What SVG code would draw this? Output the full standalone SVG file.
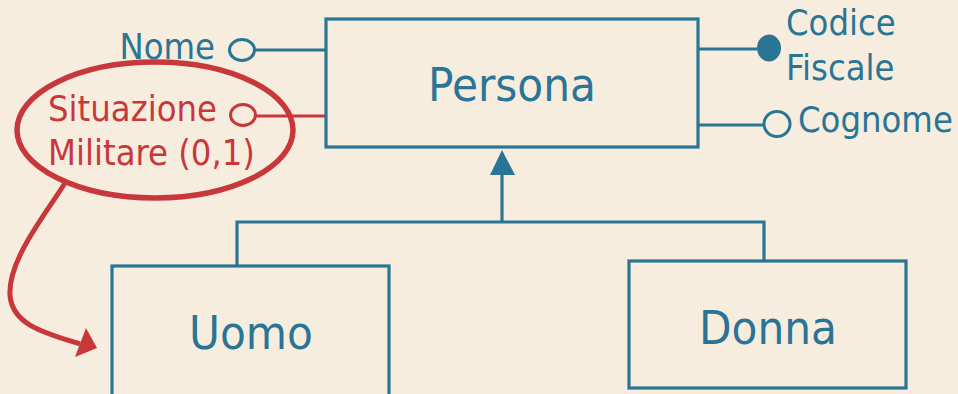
<svg xmlns="http://www.w3.org/2000/svg" width="958" height="394" viewBox="0 0 958 394">
<defs>
<style>
.bg{fill:#f7eddf}
.box{fill:none;stroke:#2a7595;stroke-width:3.2}
.ln{fill:none;stroke:#2a7595;stroke-width:3.2}
.rln{fill:none;stroke:#c8383a;stroke-width:3.2}
.oc{fill:#f7eddf;stroke:#2a7595;stroke-width:3}
.roc{fill:#f7eddf;stroke:#c8383a;stroke-width:3}
.t{font-family:"DejaVu Sans Condensed","DejaVu Sans",sans-serif;font-stretch:condensed;fill:#2a7595}
.big{font-size:47px}
.sm{font-size:36px}
.red{fill:#c8383a}
</style>
</defs>
<rect class="bg" x="0" y="0" width="958" height="394"/>
<g id="connectors">
<line class="ln" x1="255" y1="50" x2="326" y2="50"/>
<line class="rln" x1="256" y1="116" x2="326" y2="116"/>
<line class="ln" x1="698" y1="49" x2="757" y2="49"/>
<line class="ln" x1="698" y1="125" x2="764" y2="125"/>
<polyline class="ln" points="237,266 237,222 764,222 764,261"/>
<line class="ln" x1="502" y1="222" x2="502" y2="172"/>
<polygon points="502,150 490,175 515,175" fill="#2a7595"/>
<path d="M65,183 C45,215 8,260 10,295 C12,325 45,333 80,344" fill="none" stroke="#c8383a" stroke-width="5"/>
<polygon points="97,348 75,357 86,328" fill="#c8383a"/>
</g>
<g id="persona">
<rect class="box" x="326" y="19" width="372" height="128"/>
<text class="t big" x="512" y="101" text-anchor="middle">Persona</text>
</g>
<g id="uomo">
<rect class="box" x="112" y="266" width="277" height="130"/>
<text class="t big" x="251" y="349" text-anchor="middle">Uomo</text>
</g>
<g id="donna">
<rect class="box" x="629" y="261" width="277" height="127"/>
<text class="t big" x="768" y="344" text-anchor="middle">Donna</text>
</g>
<g id="attr-nome">
<ellipse class="oc" cx="242" cy="50" rx="12.5" ry="10.5"/>
<text class="t sm" x="215" y="59" text-anchor="end">Nome</text>
</g>
<g id="attr-situazione">
<ellipse cx="155" cy="130" rx="138" ry="68" fill="none" stroke="#c8383a" stroke-width="5.5"/>
<ellipse class="roc" cx="243" cy="115" rx="12.5" ry="10.5"/>
<text class="t sm red" x="48" y="121">Situazione</text>
<text class="t sm red" x="48" y="165">Militare (0,1)</text>
</g>
<g id="attr-codice">
<ellipse cx="769" cy="48" rx="12" ry="13.5" fill="#2a7595"/>
<text class="t sm" x="786" y="35">Codice</text>
<text class="t sm" x="786" y="80">Fiscale</text>
</g>
<g id="attr-cognome">
<ellipse class="oc" cx="777" cy="124" rx="13" ry="12.5"/>
<text class="t sm" x="798" y="132">Cognome</text>
</g>
</svg>
